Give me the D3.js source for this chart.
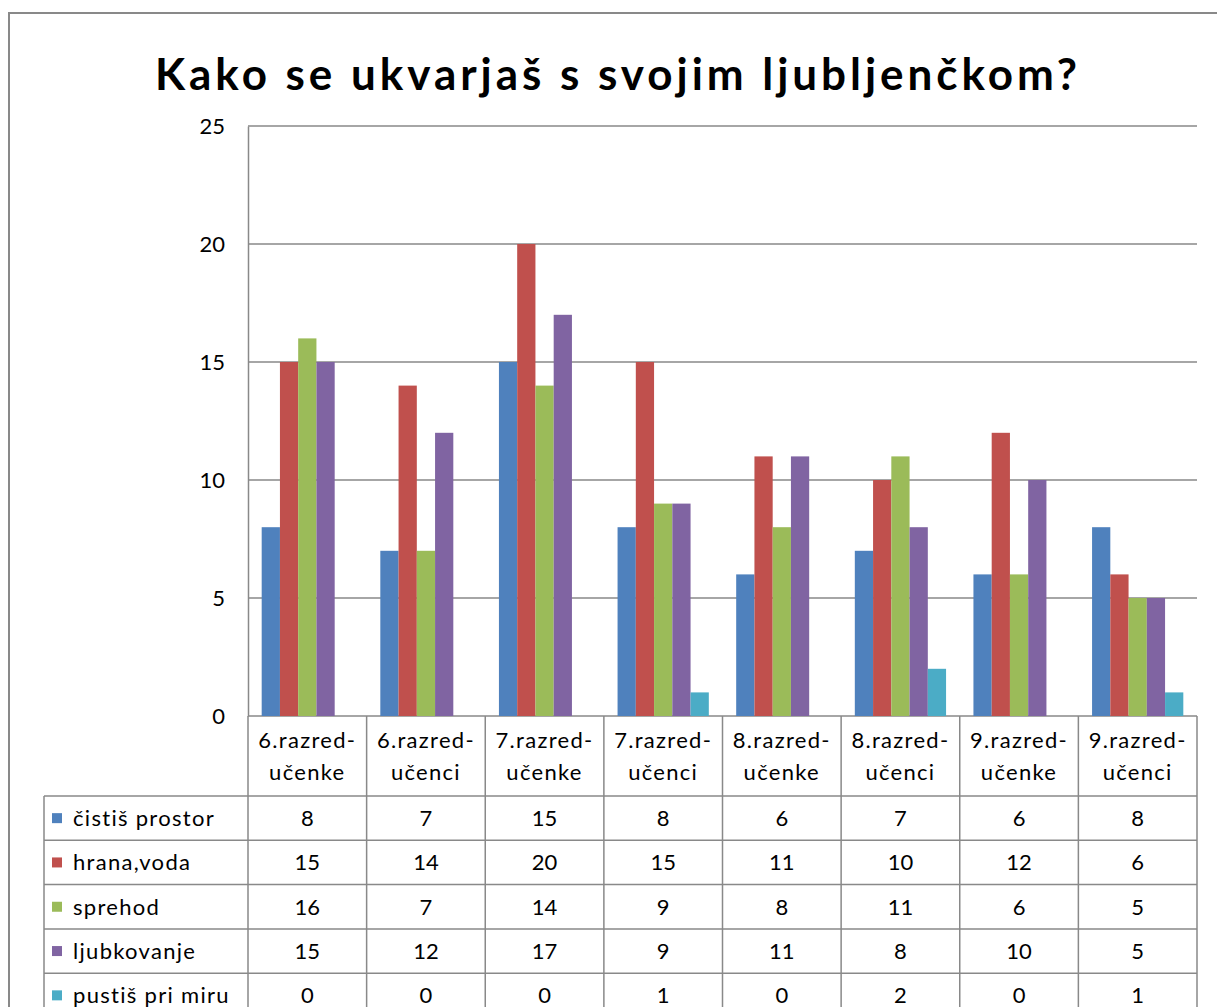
<!DOCTYPE html>
<html>
<head>
<meta charset="utf-8">
<script src="https://cdn.jsdelivr.net/npm/d3@7"></script>
<style>
  body { margin: 0; background: #fff; }
  svg { display: block; font-family: Lato, "Open Sans", sans-serif; }
</style>
</head>
<body>
<svg id="chart" width="1217" height="1007"></svg>
<script>
// data
const categories = [
  ["6.razred-", "učenke"], ["6.razred-", "učenci"],
  ["7.razred-", "učenke"], ["7.razred-", "učenci"],
  ["8.razred-", "učenke"], ["8.razred-", "učenci"],
  ["9.razred-", "učenke"], ["9.razred-", "učenci"]
];
const seriesNames = ["čistiš prostor", "hrana,voda", "sprehod", "ljubkovanje", "pustiš pri miru"];
const cistis = [8, 7, 15, 8, 6, 7, 6, 8];
const hrana = [15, 14, 20, 15, 11, 10, 12, 6];
const sprehod = [16, 7, 14, 9, 8, 11, 6, 5];
const ljubkovanje = [15, 12, 17, 9, 11, 8, 10, 5];
const pustis = [0, 0, 0, 1, 0, 2, 0, 1];
const yTicks = [0, 5, 10, 15, 20, 25];
const colors = ["#4F81BD", "#C0504D", "#9BBB59", "#8064A2", "#4BACC6"];

const values = [cistis, hrana, sprehod, ljubkovanje, pustis];
const grey = "#898989";

const svg = d3.select("#chart");

// outer frame
svg.append("path")
    .attr("d", "M9,1007 V13 H1217")
    .attr("fill", "none")
    .attr("stroke", grey)
    .attr("stroke-width", 2);

// title
svg.append("text")
    .attr("x", 616)
    .attr("y", 90)
    .attr("text-anchor", "middle")
    .attr("font-weight", "bold")
    .attr("font-size", 44)
    .attr("textLength", 922)
    .attr("lengthAdjust", "spacing")
    .text("Kako se ukvarjaš s svojim ljubljenčkom?");

const plotLeft = 248, plotRight = 1197, plotTop = 126, plotBottom = 716;

let x = d3.scaleBand()
    .domain(d3.range(categories.length))
    .range([plotLeft, plotRight])
    .padding(0);

let xs = d3.scaleBand()
    .domain(d3.range(seriesNames.length))
    .range([0, x.bandwidth()])
    .paddingInner(0)
    .paddingOuter(0.75);

let y = d3.scaleLinear()
    .domain([0, 25])
    .range([plotBottom, plotTop]);

// gridlines
svg.append("g")
    .selectAll("line")
    .data(yTicks)
    .enter()
    .append("line")
    .attr("x1", plotLeft)
    .attr("x2", plotRight)
    .attr("y1", d => y(d))
    .attr("y2", d => y(d))
    .attr("stroke", grey)
    .attr("stroke-width", 1.5);

// y axis
let yAxis = d3.axisLeft(y).tickValues(yTicks).tickSize(0).tickPadding(23);
let ya = svg.append("g")
    .attr("transform", "translate(" + plotLeft + ",0)")
    .call(yAxis);
ya.select(".domain").attr("stroke", grey).attr("stroke-width", 1.5);
ya.selectAll("text")
    .attr("font-size", 22)
    .attr("font-family", "Lato, sans-serif")
    .attr("fill", "#000");

// bars
values.forEach((vals, s) => {
    svg.append("g")
        .selectAll("rect")
        .data(vals)
        .enter()
        .append("rect")
        .attr("x", (d, i) => x(i) + xs(s))
        .attr("y", d => y(d))
        .attr("width", xs.bandwidth())
        .attr("height", d => y(0) - y(d))
        .attr("fill", colors[s]);
});

// data table
const headerBottom = 796;
const rowH = 44.3;
const tableLeft = 44;
const tableBottom = 1030;

let table = svg.append("g");

// vertical column lines
table.selectAll(".col")
    .data(d3.range(categories.length + 1))
    .enter()
    .append("line")
    .attr("x1", i => i < categories.length ? x(i) : plotRight)
    .attr("x2", i => i < categories.length ? x(i) : plotRight)
    .attr("y1", plotBottom)
    .attr("y2", tableBottom)
    .attr("stroke", grey)
    .attr("stroke-width", 1.5);

table.append("line")
    .attr("x1", tableLeft).attr("x2", tableLeft)
    .attr("y1", headerBottom).attr("y2", tableBottom)
    .attr("stroke", grey).attr("stroke-width", 1.5);

// horizontal row lines
table.selectAll(".row")
    .data(d3.range(seriesNames.length))
    .enter()
    .append("line")
    .attr("x1", tableLeft)
    .attr("x2", plotRight)
    .attr("y1", i => headerBottom + i * rowH)
    .attr("y2", i => headerBottom + i * rowH)
    .attr("stroke", grey)
    .attr("stroke-width", 1.5);

// header labels
let head = table.selectAll(".head")
    .data(categories)
    .enter()
    .append("text")
    .attr("text-anchor", "middle")
    .attr("font-size", 22)
    .attr("letter-spacing", 1.3);
head.append("tspan")
    .attr("x", (d, i) => x(i) + x.bandwidth() / 2)
    .attr("y", 748)
    .text(d => d[0]);
head.append("tspan")
    .attr("x", (d, i) => x(i) + x.bandwidth() / 2)
    .attr("y", 780)
    .text(d => d[1]);

// row labels with legend keys
seriesNames.forEach((name, s) => {
    let cy = headerBottom + s * rowH + rowH / 2;
    table.append("rect")
        .attr("x", 52)
        .attr("y", cy - 5)
        .attr("width", 10)
        .attr("height", 10)
        .attr("fill", colors[s]);
    table.append("text")
        .attr("x", 73)
        .attr("y", cy + 8)
        .attr("font-size", 22)
        .attr("letter-spacing", 1.3)
        .text(name);
    table.selectAll(".v" + s)
        .data(values[s])
        .enter()
        .append("text")
        .attr("x", (d, i) => x(i) + x.bandwidth() / 2)
        .attr("y", cy + 8)
        .attr("text-anchor", "middle")
        .attr("font-size", 22)
        .text(d => d);
});
</script>
</body>
</html>
